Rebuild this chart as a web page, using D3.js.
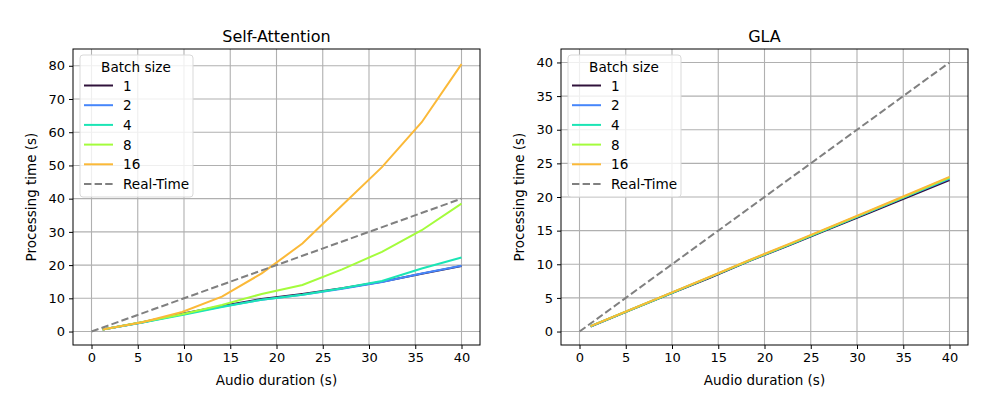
<!DOCTYPE html>
<html>
<head>
<meta charset="utf-8">
<script src="https://cdn.jsdelivr.net/npm/d3@7"></script>
<style>
body { margin: 0; background: #fff; }
svg { font-family: "DejaVu Sans", sans-serif; }
</style>
</head>
<body>
<svg id="chart" width="997" height="415"></svg>
<script>
// audio durations (s)
var durations = [1.2, 5.5, 9.8, 14.1, 18.4, 22.8, 27.1, 31.4, 35.7, 40];
var batchSizes = ["1", "2", "4", "8", "16"];
var batchColors = ["#30123b", "#4686fb", "#1be5b5", "#a4fc3c", "#fbb938"];

// Self-Attention processing time (s)
var attn1  = [0.6, 2.8, 5.4, 7.7, 9.8, 11.3, 13.0, 15.0, 17.4, 19.7];
var attn2  = [0.6, 2.7, 5.2, 7.5, 9.6, 11.1, 12.9, 14.9, 17.5, 19.8];
var attn4  = [0.6, 2.7, 5.0, 7.4, 9.6, 11.1, 13.0, 15.2, 19.0, 22.3];
var attn8  = [0.6, 2.9, 5.2, 8.0, 11.3, 14.0, 18.7, 24.0, 30.5, 38.5];
var attn16 = [0.6, 2.8, 5.9, 10.5, 17.5, 26.5, 38.0, 49.5, 63.0, 80.5];

// GLA processing time (s)
var gla1  = [0.75, 3.2, 5.6, 8.0, 10.5, 12.9, 15.3, 17.7, 20.1, 22.5];
var gla2  = [0.78, 3.22, 5.65, 8.08, 10.56, 12.98, 15.4, 17.84, 20.27, 22.7];
var gla4  = [0.78, 3.23, 5.66, 8.1, 10.58, 13.0, 15.43, 17.88, 20.32, 22.8];
var gla8  = [0.8, 3.24, 5.68, 8.12, 10.6, 13.04, 15.48, 17.94, 20.4, 22.9];
var gla16 = [0.8, 3.25, 5.7, 8.15, 10.65, 13.1, 15.55, 18.0, 20.48, 23.0];

var realTimeX = [0, 40];
var xTicks = [0, 5, 10, 15, 20, 25, 30, 35, 40];
var attnTicks = [0, 10, 20, 30, 40, 50, 60, 70, 80];
var glaTicks = [0, 5, 10, 15, 20, 25, 30, 35, 40];

var svg = d3.select("#chart");

function drawPanel(opts) {
    var g = svg.append("g");
    var x = d3.scaleLinear().domain([-2, 42]).range([opts.left, opts.left + 407]);
    var y = d3.scaleLinear().domain(opts.yDomain).range([345, 49]);

    // grid
    g.selectAll(".gx").data(xTicks).enter().append("line")
        .attr("x1", d => x(d)).attr("x2", d => x(d))
        .attr("y1", 49).attr("y2", 345)
        .attr("stroke", "#b0b0b0").attr("stroke-width", 1.1);
    g.selectAll(".gy").data(opts.yTicks).enter().append("line")
        .attr("x1", opts.left).attr("x2", opts.left + 407)
        .attr("y1", d => y(d)).attr("y2", d => y(d))
        .attr("stroke", "#b0b0b0").attr("stroke-width", 1.1);

    var line = d3.line().x(d => x(d[0])).y(d => y(d[1]));

    opts.series.forEach(function(s, i) {
        g.append("path")
            .attr("d", line(durations.map((d, j) => [d, s[j]])))
            .attr("fill", "none")
            .attr("stroke", batchColors[i])
            .attr("stroke-width", 2);
    });

    g.append("path")
        .attr("d", line(realTimeX.map(d => [d, d])))
        .attr("fill", "none")
        .attr("stroke", "#808080")
        .attr("stroke-width", 2)
        .attr("stroke-dasharray", "7.4,3.2");

    // axes
    var xAxis = d3.axisBottom(x).tickValues(xTicks).tickSize(4).tickPadding(4);
    var yAxis = d3.axisLeft(y).tickValues(opts.yTicks).tickSize(4).tickPadding(4);
    var gx = g.append("g").attr("transform", "translate(0,345)").call(xAxis);
    var gy = g.append("g").attr("transform", "translate(" + opts.left + ",0)").call(yAxis);
    [gx, gy].forEach(function(a) {
        a.select(".domain").remove();
        a.selectAll("text").attr("font-size", 13).attr("fill", "#000")
            .attr("font-family", "DejaVu Sans");
        a.selectAll("line").attr("stroke", "#000");
    });

    g.append("rect")
        .attr("x", opts.left).attr("y", 49)
        .attr("width", 407).attr("height", 296)
        .attr("fill", "none").attr("stroke", "#000").attr("stroke-width", 1);

    g.append("text")
        .attr("x", opts.left + 203.5).attr("y", 42)
        .attr("text-anchor", "middle").attr("font-size", 16)
        .text(opts.title);
    g.append("text")
        .attr("x", opts.left + 203.5).attr("y", 385)
        .attr("text-anchor", "middle").attr("font-size", 13.5)
        .text("Audio duration (s)");
    g.append("text")
        .attr("transform", "translate(" + (opts.left - 37) + ",197) rotate(-90)")
        .attr("text-anchor", "middle").attr("font-size", 13.5)
        .text("Processing time (s)");

    // legend
    var lx = opts.left + 7, ly = 55;
    var leg = g.append("g");
    leg.append("rect")
        .attr("x", lx).attr("y", ly).attr("width", 113).attr("height", 142)
        .attr("rx", 3)
        .attr("fill", "#fff").attr("fill-opacity", 0.8)
        .attr("stroke", "#d9d9d9").attr("stroke-width", 1);
    leg.append("text")
        .attr("x", lx + 56).attr("y", ly + 17)
        .attr("text-anchor", "middle").attr("font-size", 13.6)
        .text("Batch size");
    var labels = batchSizes.concat(["Real-Time"]);
    labels.forEach(function(lab, i) {
        var ry = ly + 30.5 + i * 19.7;
        leg.append("line")
            .attr("x1", lx + 4).attr("x2", lx + 33)
            .attr("y1", ry).attr("y2", ry)
            .attr("stroke", i < 5 ? batchColors[i] : "#808080")
            .attr("stroke-width", 2)
            .attr("stroke-dasharray", i < 5 ? null : "7.4,3.2");
        leg.append("text")
            .attr("x", lx + 43).attr("y", ry + 5)
            .attr("font-size", 13.6)
            .text(lab);
    });
}

drawPanel({
    left: 73, title: "Self-Attention",
    yDomain: [-4.05, 85.05], yTicks: attnTicks,
    series: [attn1, attn2, attn4, attn8, attn16]
});
drawPanel({
    left: 561, title: "GLA",
    yDomain: [-2, 42], yTicks: glaTicks,
    series: [gla1, gla2, gla4, gla8, gla16]
});
</script>
</body>
</html>
